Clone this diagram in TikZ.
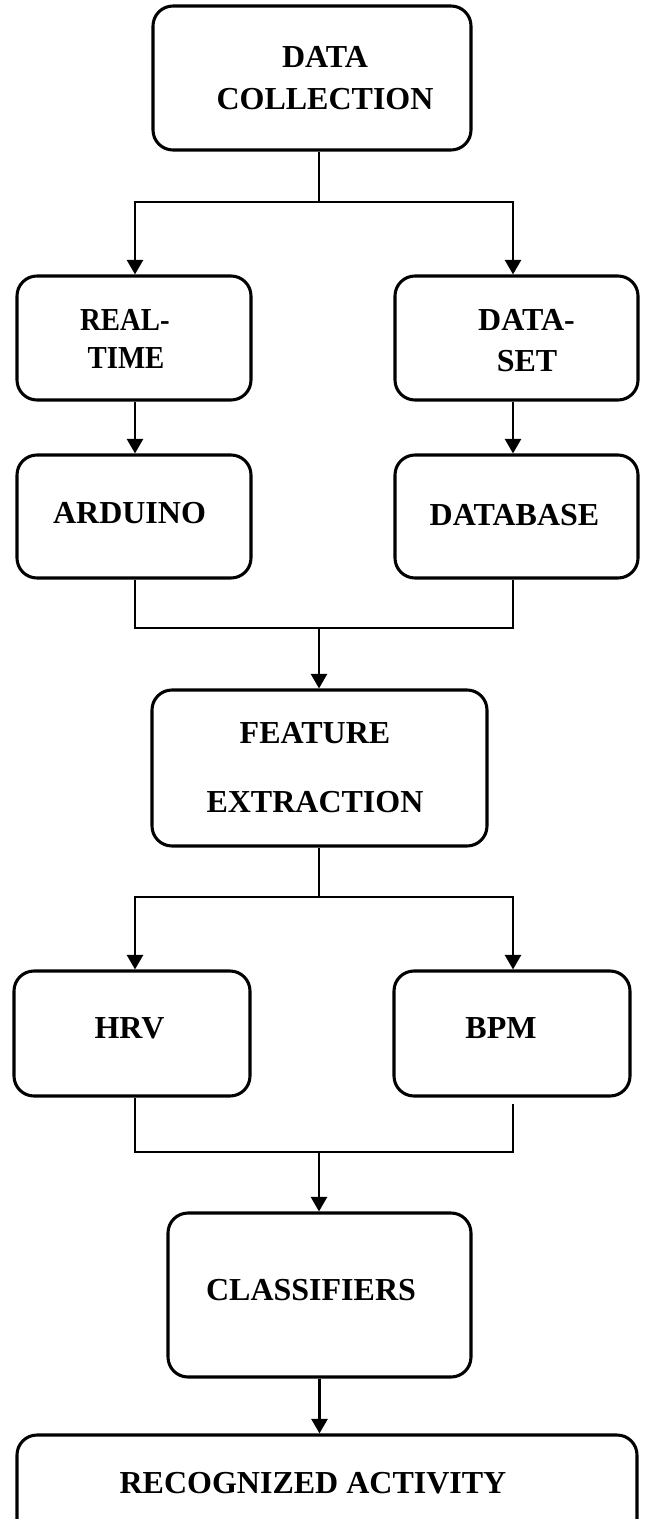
\documentclass[tikz,border=0pt]{standalone}
\usepackage{fontspec}
\usepackage{graphicx}
\setmainfont{Liberation Serif}
\usetikzlibrary{arrows.meta,calc}
\newcommand{\lblfont}{\fontsize{24pt}{28pt}\selectfont\bfseries}

\begin{document}
\begin{tikzpicture}[x=0.75pt,y=-0.75pt,
  box/.style 2 args={draw, line width=2.3pt, rounded corners=15pt, inner sep=0pt,
    minimum width=#1*0.75pt, minimum height=#2*0.75pt},
  lbl/.style={font=\lblfont, inner sep=0pt},
  conn/.style={line width=2.2pt},
  arr/.style={conn, -{Triangle[length=11pt,width=12pt]}}]
\useasboundingbox (0,0) rectangle (644,1519);

% boxes
\node[box={318}{144}] (dc)  at (312,78) {};
\node[box={234}{124}] (rt)  at (134,338) {};
\node[box={243}{124}] (ds)  at (516.5,338) {};
\node[box={234}{123}] (ard) at (134,516.5) {};
\node[box={243}{123}] (db)  at (516.5,516.5) {};
\node[box={335}{156}] (fe)  at (319.5,768) {};
\node[box={236}{125}] (hrv) at (132,1033.5) {};
\node[box={236}{125}] (bpm) at (512,1033.5) {};
\node[box={303}{164}] (cls) at (319.5,1295) {};
\node[box={620}{110}] (ra)  at (327,1490) {};

% labels
\node[lbl] (tdc1) at (325,57) {DATA};
\node[lbl] (tdc2) at (325,99) {COLLECTION};
\node[lbl] (trt1) at (125,320) {\scalebox{0.9}[1]{REAL-}};
\node[lbl] (trt2) at (126,358) {\scalebox{0.9}[1]{TIME}};
\node[lbl] (tds1) at (526.5,320) {DATA-};
\node[lbl] (tds2) at (527,361) {SET};
\node[lbl] (tard) at (129.5,513) {ARDUINO};
\node[lbl] (tdb)  at (514.5,515) {DATABASE};
\node[lbl] (tfe1) at (315,733) {FEATURE};
\node[lbl] (tfe2) at (315,802) {EXTRACTION};
\node[lbl] (thrv) at (129.5,1028) {HRV};
\node[lbl] (tbpm) at (501,1028) {BPM};
\node[lbl] (tcls) at (311,1290) {CLASSIFIERS};
\node[lbl] (tra)  at (313,1483) {RECOGNIZED ACTIVITY};

% connector columns and junctions
\coordinate (cL) at (135,0);
\coordinate (cR) at (513,0);
\coordinate (j1) at (319,202);
\coordinate (j2) at (319,628);
\coordinate (j3) at (319,897);
\coordinate (j4) at (319,1152);

% connectors
\draw[conn] (j1 |- dc.south) -- (j1);
\draw[arr] (j1) -| (cL |- rt.north);
\draw[arr] (j1) -| (cR |- ds.north);
\draw[arr] (cL |- rt.south) -- (cL |- ard.north);
\draw[arr] (cR |- ds.south) -- (cR |- db.north);
\draw[conn] (cL |- ard.south) |- (j2) -| (cR |- db.south);
\draw[arr] (j2) -- (j2 |- fe.north);
\draw[conn] (j3 |- fe.south) -- (j3);
\draw[arr] (j3) -| (cL |- hrv.north);
\draw[arr] (j3) -| (cR |- bpm.north);
\coordinate (bpmout) at ($(cR |- bpm.south)+(0,6)$);
\draw[conn] (cL |- hrv.south) |- (j4) -| (bpmout);
\draw[arr] (j4) -- (j4 |- cls.north);
\draw[arr] (cls.south) -- (cls.south |- ra.north);
\end{tikzpicture}
\end{document}
